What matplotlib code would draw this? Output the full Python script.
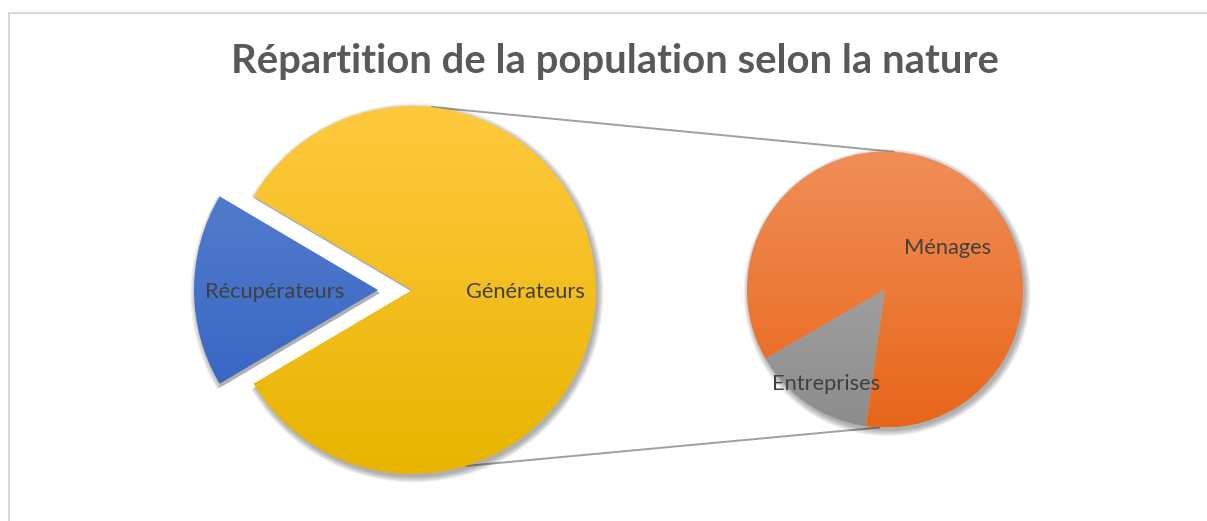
import matplotlib
matplotlib.use("Agg")
import matplotlib.pyplot as plt
import numpy as np
from matplotlib.patches import Wedge, Rectangle
from matplotlib.colors import LinearSegmentedColormap

# ---------------- data ----------------
title = "Répartition de la population selon la nature"
main_labels = ["Générateurs", "Récupérateurs"]
sub_labels = ["Entreprises", "Ménages"]
sub_values = [12, 71]          # breakdown of "Générateurs"
recup_value = 17
main_values = [sum(sub_values), recup_value]

# ---------------- style ----------------
W, H = 1207, 521
fig = plt.figure(figsize=(W / 100, H / 100), dpi=100)
ax = fig.add_axes([0, 0, 1, 1])

main_center = (412.0, 231.0)
main_r = 184.0
explode_px = 34.0
sub_center = (885.0, 231.5)
sub_r = 138.0

main_grad = [("#E8B400", "#FFC93E"), ("#2E5DBE", "#5C85D1")]   # (bottom, top)
sub_grad = [("#8C8C8C", "#B2B2B2"), ("#E8661A", "#F08E57")]

frac_rec = recup_value / sum(main_values)
start_main = 180 * frac_rec - 180
start_sub = 210.0

main_wedges, _ = ax.pie(main_values, startangle=start_main, radius=main_r,
                        center=main_center, explode=[0, explode_px],
                        counterclock=True, wedgeprops=dict(linewidth=0))
sub_wedges, _ = ax.pie(sub_values, startangle=start_sub, radius=sub_r,
                       center=sub_center, counterclock=True,
                       wedgeprops=dict(linewidth=0))


def decorate(wedges, grads):
    for w, (cb, ct) in zip(wedges, grads):
        cx, cy = w.center
        r = w.r
        w.set_facecolor("none")
        w.set_zorder(3)
        # soft shadow
        for k in range(8):
            sh = Wedge((cx + 2.0, cy - 3.0), r + k * 0.8, w.theta1, w.theta2,
                       facecolor="black", edgecolor="none",
                       alpha=0.045, zorder=1)
            ax.add_patch(sh)
        cmap = LinearSegmentedColormap.from_list("g", [cb, ct])
        grad = np.linspace(0, 1, 256).reshape(-1, 1)
        im = ax.imshow(grad, cmap=cmap, origin="lower", aspect="auto",
                       extent=(cx - r, cx + r, cy - r, cy + r),
                       interpolation="bilinear", zorder=2)
        im.set_clip_path(w)


decorate(main_wedges, main_grad)
decorate(sub_wedges, sub_grad)

# connector lines
def pt(c, r, ang):
    a = np.deg2rad(ang)
    return c[0] + r * np.cos(a), c[1] + r * np.sin(a)

for a1, a2 in [(84, 86), (-73, -92)]:
    p1 = pt(main_center, main_r, a1)
    p2 = pt(sub_center, sub_r, a2)
    ax.plot([p1[0], p2[0]], [p1[1], p2[1]], color="#A0A0A0", lw=1.4,
            zorder=0.5, solid_capstyle="butt")

# chart border
ax.add_patch(Rectangle((8.5, -20), W + 40, H - 12.5 + 20, fill=False,
                       edgecolor="#D9D9D9", lw=1.5, zorder=0))

ax.set_xlim(0, W)
ax.set_ylim(0, H)
ax.set_aspect("auto")
ax.axis("off")

fig.canvas.draw()
renderer = fig.canvas.get_renderer()

t = ax.text(615, H - 72.5, title, ha="center", va="baseline",
            fontsize=26, fontweight="bold", color="#595959",
            family="Lato", zorder=5)
bb = t.get_window_extent(renderer)
t.set_fontsize(26 * 766 / bb.width)

label_pos = {
    "Récupérateurs": (275, H - 292),
    "Générateurs": (525, H - 292),
    "Ménages": (948, H - 248),
    "Entreprises": (826, H - 384),
}
texts = []
for name in main_labels + sub_labels:
    x, y = label_pos[name]
    tt = ax.text(x, y, name, ha="center", va="center", fontsize=14,
                 color="#404040", family="Lato", zorder=5)
    texts.append(tt)
bb = texts[1].get_window_extent(renderer)
fs = 14 * 140 / bb.width
for tt in texts:
    tt.set_fontsize(fs)

fig.savefig("out.png", dpi=100)
